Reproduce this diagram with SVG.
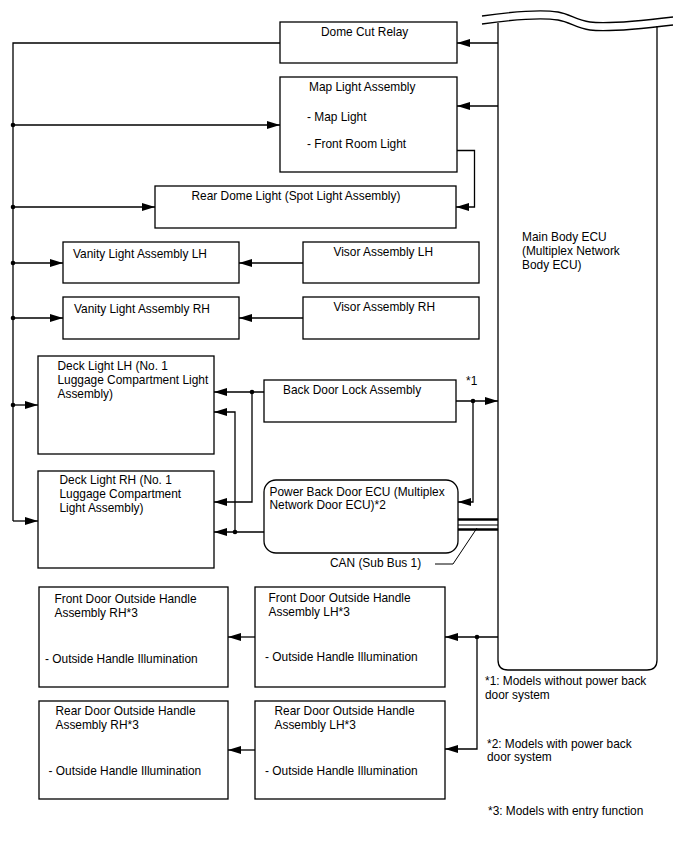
<svg xmlns="http://www.w3.org/2000/svg" width="688" height="852" viewBox="0 0 688 852">
<style>
.box{fill:#fff;stroke:#000;stroke-width:1.3}
.ln{fill:none;stroke:#000;stroke-width:1.3}
.arr{fill:none;stroke:#000;stroke-width:1.3;marker-end:url(#ah)}
.dot{fill:#000}
text{font-family:"Liberation Sans",Arial,sans-serif;font-size:11.9px;fill:#000}
</style>
<defs>
<marker id="ah" markerUnits="userSpaceOnUse" markerWidth="13" markerHeight="8" refX="13" refY="4" orient="auto">
<path d="M0,0 L13,4 L0,8 z" fill="#000"/>
</marker>
</defs>
<rect width="688" height="852" fill="#fff"/>

<g id="main-body-ecu">
<path class="ln" d="M498,23 L498,660 Q498,670 508,670 L647,670 Q657,670 657,660 L657,26"/>
<path class="ln" d="M482,16 C510,12 540,9 558,12 C570,14 576,20 590,22 C605,24 640,21 673,17"/>
<path class="ln" d="M482,24 C510,20 540,17 558,20 C570,22 576,28 590,30 C605,32 640,29 673,25"/>
<text x="522" y="241">Main Body ECU</text>
<text x="522" y="255">(Multiplex Network</text>
<text x="522" y="268.5">Body ECU)</text>
</g>

<g id="dome-cut-relay">
<rect class="box" x="280" y="22" width="177" height="41"/>
<text x="321" y="36">Dome Cut Relay</text>
</g>

<g id="map-light-assembly">
<rect class="box" x="280" y="77" width="177" height="95"/>
<text x="309" y="91">Map Light Assembly</text>
<text x="307" y="121">- Map Light</text>
<text x="307" y="147.5">- Front Room Light</text>
</g>

<g id="rear-dome-light">
<rect class="box" x="155" y="186" width="301" height="42"/>
<text x="191.5" y="200">Rear Dome Light (Spot Light Assembly)</text>
</g>

<g id="vanity-light-lh">
<rect class="box" x="63" y="242" width="176" height="41"/>
<text x="73" y="257.5">Vanity Light Assembly LH</text>
</g>
<g id="visor-lh">
<rect class="box" x="303" y="242" width="176" height="41"/>
<text x="333.5" y="255.5">Visor Assembly LH</text>
</g>
<g id="vanity-light-rh">
<rect class="box" x="63" y="297" width="176" height="42"/>
<text x="74" y="312.5">Vanity Light Assembly RH</text>
</g>
<g id="visor-rh">
<rect class="box" x="303" y="297" width="176" height="42"/>
<text x="333.5" y="310.5">Visor Assembly RH</text>
</g>

<g id="deck-light-lh">
<rect class="box" x="38" y="356" width="176" height="98"/>
<text x="57.5" y="369.5">Deck Light LH (No. 1</text>
<text x="57.5" y="383.5">Luggage Compartment Light</text>
<text x="57.5" y="397.5">Assembly)</text>
</g>
<g id="deck-light-rh">
<rect class="box" x="38" y="471" width="176" height="97"/>
<text x="59.5" y="484">Deck Light RH (No. 1</text>
<text x="59.5" y="498">Luggage Compartment</text>
<text x="59.5" y="512">Light Assembly)</text>
</g>

<g id="back-door-lock">
<rect class="box" x="264" y="380" width="192" height="42"/>
<text x="283" y="393.5">Back Door Lock Assembly</text>
</g>
<g id="power-back-door-ecu">
<rect class="box" x="264" y="480" width="194" height="73" rx="12" ry="12"/>
<text x="269.5" y="496">Power Back Door ECU (Multiplex</text>
<text x="269.5" y="509">Network Door ECU)*2</text>
</g>

<g id="front-door-rh">
<rect class="box" x="39" y="587" width="189" height="100"/>
<text x="54.5" y="603">Front Door Outside Handle</text>
<text x="54.5" y="617">Assembly RH*3</text>
<text x="45" y="662.5">- Outside Handle Illumination</text>
</g>
<g id="front-door-lh">
<rect class="box" x="255" y="587" width="190" height="100"/>
<text x="268.5" y="602">Front Door Outside Handle</text>
<text x="268.5" y="616">Assembly LH*3</text>
<text x="265" y="660.5">- Outside Handle Illumination</text>
</g>
<g id="rear-door-rh">
<rect class="box" x="39" y="701" width="189" height="98"/>
<text x="55.5" y="715">Rear Door Outside Handle</text>
<text x="55.5" y="729">Assembly RH*3</text>
<text x="48.5" y="775">- Outside Handle Illumination</text>
</g>
<g id="rear-door-lh">
<rect class="box" x="255" y="701" width="190" height="98"/>
<text x="274.5" y="715">Rear Door Outside Handle</text>
<text x="274.5" y="729">Assembly LH*3</text>
<text x="265" y="775">- Outside Handle Illumination</text>
</g>

<g id="connectors">
<path class="ln" d="M280,43 L13,43 L13,521"/>
<path class="arr" d="M13,521 L38,521"/>
<path class="arr" d="M13,125 L280,125"/>
<path class="arr" d="M13,207 L155,207"/>
<path class="arr" d="M13,263 L63,263"/>
<path class="arr" d="M13,318 L63,318"/>
<path class="arr" d="M13,405 L38,405"/>
<circle class="dot" cx="13" cy="125" r="2.3"/>
<circle class="dot" cx="13" cy="207" r="2.3"/>
<circle class="dot" cx="13" cy="263" r="2.3"/>
<circle class="dot" cx="13" cy="318" r="2.3"/>
<circle class="dot" cx="13" cy="405" r="2.3"/>
<path class="arr" d="M498,43 L457,43"/>
<path class="arr" d="M498,106 L457,106"/>
<path class="arr" d="M457,150.5 L474.5,150.5 L474.5,207 L456,207"/>
<path class="arr" d="M303,263 L239,263"/>
<path class="arr" d="M303,318 L239,318"/>
<path class="arr" d="M264,392 L214,392"/>
<path class="arr" d="M252,392 L252,502 L214,502"/>
<circle class="dot" cx="252" cy="392" r="2.3"/>
<path class="arr" d="M235,532 L235,412 L214,412"/>
<path class="arr" d="M264,532 L214,532"/>
<circle class="dot" cx="235" cy="532" r="2.3"/>
<path class="arr" d="M456,401 L498,401"/>
<path class="arr" d="M473,401 L473,502 L458,502"/>
<circle class="dot" cx="473" cy="401" r="2.3"/>
<text x="466" y="385">*1</text>
<path d="M458,519.5 L498,519.5" stroke="#000" stroke-width="2.6" fill="none"/>
<path d="M458,525 L498,525" stroke="#000" stroke-width="1" fill="none"/>
<path d="M458,529.5 L498,529.5" stroke="#000" stroke-width="2.6" fill="none"/>
<path d="M477,528 L453,564 L435,564" stroke="#000" stroke-width="1" fill="none"/>
<text x="330" y="566.5">CAN (Sub Bus 1)</text>
<path class="arr" d="M498,637 L445,637"/>
<path class="arr" d="M477,637 L477,749 L445,749"/>
<circle class="dot" cx="477" cy="637" r="2.3"/>
<path class="arr" d="M255,637 L228,637"/>
<path class="arr" d="M255,750 L228,750"/>
</g>

<g id="notes">
<text x="485" y="685">*1: Models without power back</text>
<text x="485" y="698.5">door system</text>
<text x="487" y="748">*2: Models with power back</text>
<text x="487" y="761">door system</text>
<text x="488" y="815">*3: Models with entry function</text>
</g>
</svg>
